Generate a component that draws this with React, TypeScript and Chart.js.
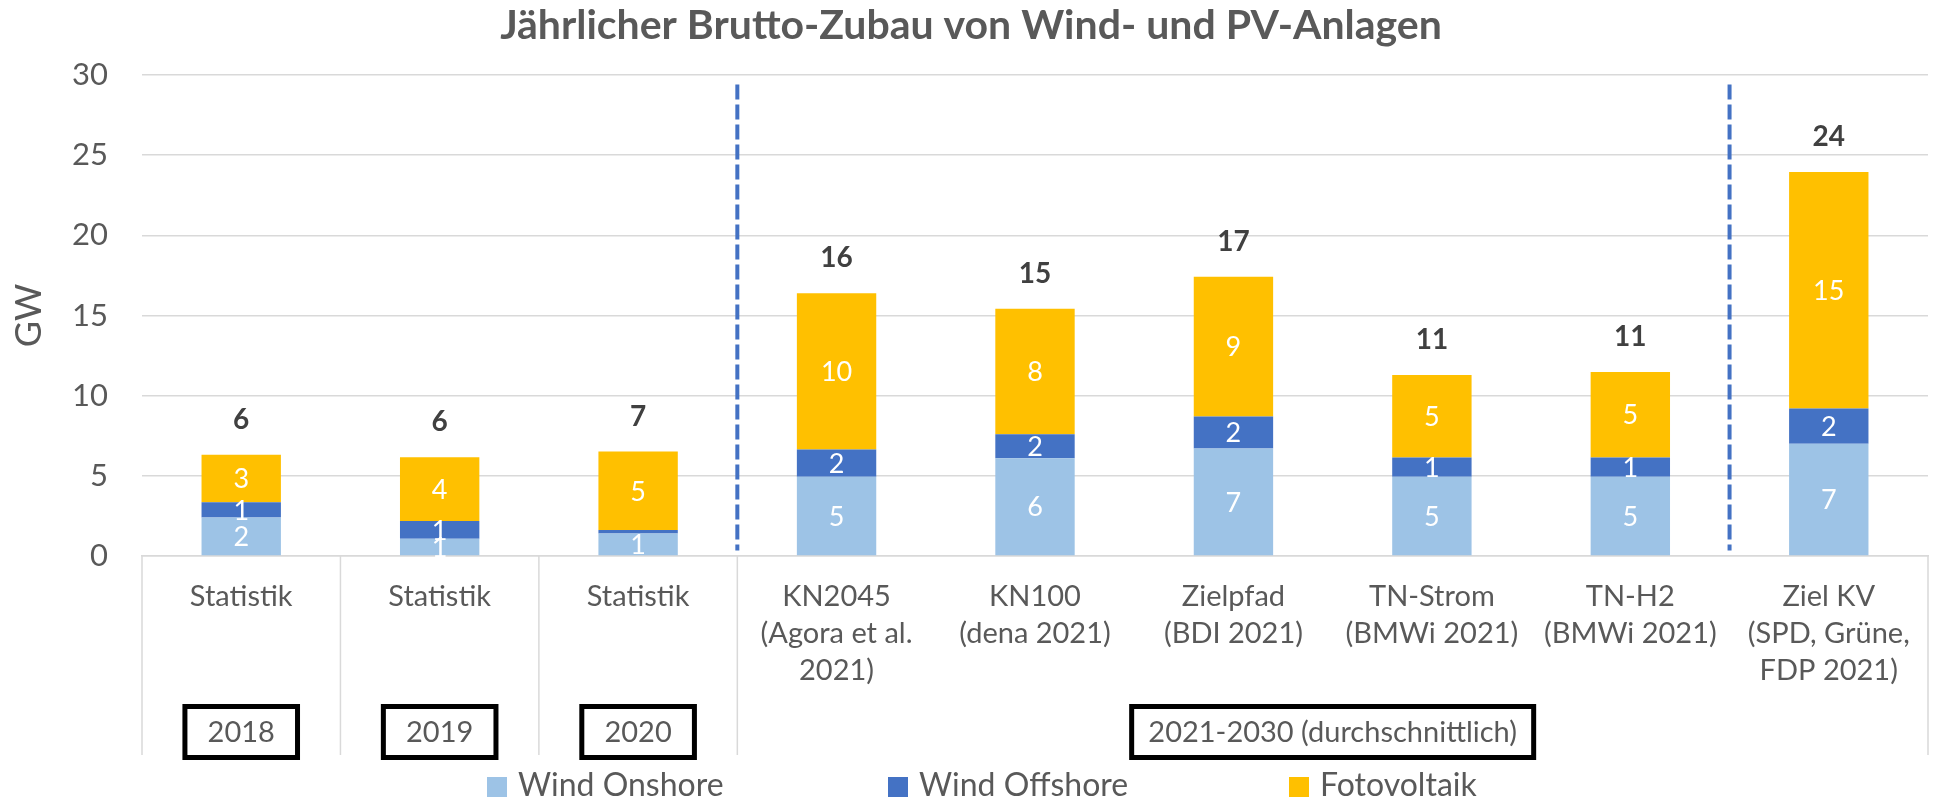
import React, { useEffect, useRef } from "react";
import { Chart, registerables } from "chart.js";

Chart.register(...registerables);

const title = "Jährlicher Brutto-Zubau von Wind- und PV-Anlagen";
const yAxisTitle = "GW";

const categories: string[][] = [
  ["Statistik"],
  ["Statistik"],
  ["Statistik"],
  ["KN2045", "(Agora et al.", "2021)"],
  ["KN100", "(dena 2021)"],
  ["Zielpfad", "(BDI 2021)"],
  ["TN-Strom", "(BMWi 2021)"],
  ["TN-H2", "(BMWi 2021)"],
  ["Ziel KV", "(SPD, Grüne,", "FDP 2021)"],
];

const windOnshore = [2.4, 1.08, 1.41, 4.95, 6.1, 6.7, 4.95, 4.95, 7.0];
const windOffshore = [0.96, 1.1, 0.21, 1.7, 1.5, 2.0, 1.2, 1.2, 2.2];
const photovoltaik = [2.95, 3.98, 4.89, 9.73, 7.82, 8.72, 5.14, 5.33, 14.75];

const seriesNames = ["Wind Onshore", "Wind Offshore", "Fotovoltaik"];
const seriesColors = ["#9DC3E6", "#4472C4", "#FFC000"];

// period groups: label, first category index, last category index
const groupLabels = ["2018", "2019", "2020", "2021-2030 (durchschnittlich)"];
const groupFrom = [0, 1, 2, 3];
const groupTo = [0, 1, 2, 8];

// category boundaries (after index) where the dashed separators are drawn
const dashedAfter = [2, 7];
// category boundaries where axis separators are drawn (index of boundary)
const separatorAt = [0, 1, 2, 3, 9];

const yMin = 0;
const yMax = 30;
const yStep = 5;

const FONT = 'Lato, "Open Sans", "DejaVu Sans", sans-serif';
const TEXT = "#595959";

const decorPlugin = {
  id: "decor",
  afterDatasetsDraw(chart: any) {
    const ctx = chart.ctx;
    const xs = chart.scales.x;
    const ys = chart.scales.y;
    ctx.save();
    // segment labels
    ctx.textAlign = "center";
    ctx.textBaseline = "middle";
    ctx.fillStyle = "#ffffff";
    ctx.font = `27px ${FONT}`;
    chart.data.datasets.forEach((ds: any, di: number) => {
      const meta = chart.getDatasetMeta(di);
      meta.data.forEach((bar: any, i: number) => {
        const v = ds.data[i];
        const r = Math.round(v);
        if (r === 0) return;
        const p = bar.getProps(["x", "y", "base"], true);
        ctx.fillText(String(r), p.x, (p.y + p.base) / 2 + 1);
      });
    });
    // totals
    ctx.fillStyle = "#404040";
    ctx.font = `bold 28px ${FONT}`;
    const n = chart.data.labels.length;
    for (let i = 0; i < n; i++) {
      let sum = 0;
      chart.data.datasets.forEach((ds: any) => (sum += ds.data[i]));
      const px = xs.getPixelForValue(i);
      const py = ys.getPixelForValue(sum);
      ctx.fillText(String(Math.round(sum)), px, py - 35);
    }
    // dashed lines
    const half = (xs.getPixelForValue(1) - xs.getPixelForValue(0)) / 2;
    ctx.strokeStyle = "#4472C4";
    ctx.lineWidth = 4;
    ctx.setLineDash([15, 5]);
    dashedAfter.forEach((idx) => {
      const bx = xs.getPixelForValue(idx) + half;
      ctx.beginPath();
      ctx.moveTo(bx, ys.getPixelForValue(29.4));
      ctx.lineTo(bx, ys.getPixelForValue(0.35));
      ctx.stroke();
    });
    ctx.restore();
  },
  afterDraw(chart: any) {
    const ctx = chart.ctx;
    const xs = chart.scales.x;
    const area = chart.chartArea;
    const W = chart.width;
    ctx.save();
    // title
    ctx.fillStyle = TEXT;
    ctx.font = `bold 41px ${FONT}`;
    ctx.textAlign = "center";
    ctx.textBaseline = "alphabetic";
    ctx.fillText(title, W / 2 + 3, 39);

    // axis separators
    const half = (xs.getPixelForValue(1) - xs.getPixelForValue(0)) / 2;
    ctx.strokeStyle = "#d9d9d9";
    ctx.lineWidth = 1.5;
    separatorAt.forEach((b) => {
      const bx = xs.getPixelForValue(b) - half;
      ctx.beginPath();
      ctx.moveTo(bx, area.bottom);
      ctx.lineTo(bx, 755);
      ctx.stroke();
    });

    // group boxes
    ctx.font = `29px ${FONT}`;
    ctx.textBaseline = "middle";
    groupLabels.forEach((lab, gi) => {
      const cx = (xs.getPixelForValue(groupFrom[gi]) + xs.getPixelForValue(groupTo[gi])) / 2;
      const w = groupFrom[gi] === groupTo[gi] ? 112.6 : 402;
      ctx.strokeStyle = "#000000";
      ctx.lineWidth = 5;
      ctx.strokeRect(cx - w / 2, 706.5, w, 51);
      ctx.fillStyle = TEXT;
      ctx.fillText(lab, cx, 733);
    });

    // legend
    const legendX = [487, 888, 1289];
    ctx.font = `32px ${FONT}`;
    ctx.textAlign = "left";
    seriesNames.forEach((name, i) => {
      ctx.fillStyle = seriesColors[i];
      ctx.fillRect(legendX[i], 777, 20, 20);
      ctx.fillStyle = TEXT;
      ctx.fillText(name, legendX[i] + 31, 786);
    });
    ctx.restore();
  },
};

export default function App() {
  const ref = useRef<HTMLCanvasElement | null>(null);
  useEffect(() => {
    if (!ref.current) return;
    const chart = new Chart(ref.current, {
      type: "bar",
      data: {
        labels: categories as any,
        datasets: [
          { label: seriesNames[0], data: windOnshore, backgroundColor: seriesColors[0] },
          { label: seriesNames[1], data: windOffshore, backgroundColor: seriesColors[1] },
          { label: seriesNames[2], data: photovoltaik, backgroundColor: seriesColors[2] },
        ],
      },
      options: {
        animation: false,
        responsive: true,
        maintainAspectRatio: false,
        layout: { padding: { top: 75, right: 8, left: 0, bottom: 0 } },
        datasets: { bar: { barPercentage: 0.4, categoryPercentage: 1 } },
        plugins: {
          legend: { display: false },
          title: { display: false },
          tooltip: { enabled: false },
        },
        scales: {
          x: {
            stacked: true,
            grid: { display: false, drawTicks: false },
            border: { display: true, color: "#d9d9d9", width: 1.5 },
            ticks: {
              autoSkip: false,
              maxRotation: 0,
              minRotation: 0,
              padding: 22,
              color: TEXT,
              font: { family: FONT, size: 29, lineHeight: 37 / 29 },
            },
            afterFit: (s: any) => {
              s.height = 245;
            },
          },
          y: {
            stacked: true,
            min: yMin,
            max: yMax,
            grid: { color: "#d9d9d9", lineWidth: 1.5, drawTicks: false },
            border: { display: false },
            ticks: {
              stepSize: yStep,
              padding: 34,
              color: TEXT,
              font: { family: FONT, size: 31 },
            },
            title: {
              display: true,
              text: yAxisTitle,
              color: TEXT,
              font: { family: FONT, size: 36 },
              padding: { top: 8, bottom: 0 },
            },
            afterFit: (s: any) => {
              s.width = 142;
            },
          },
        },
      },
      plugins: [decorPlugin],
    });
    return () => chart.destroy();
  }, []);
  return (
    <div style={{ position: "absolute", left: 0, top: 0, width: 1936, height: 801 }}>
      <canvas ref={ref} />
    </div>
  );
}
